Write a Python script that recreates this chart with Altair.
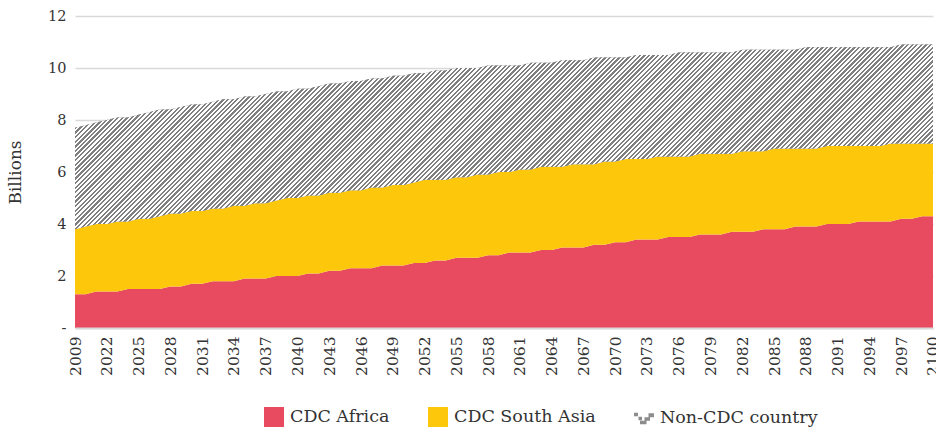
import math

import altair as alt
import pandas as pd

# Population projection by group, billions
years = ["2009"] + [str(y) for y in range(2020, 2101)]

africa = [
    1.3, 1.3, 1.4, 1.4, 1.4, 1.5, 1.5, 1.5, 1.5, 1.6,
    1.6, 1.7, 1.7, 1.8, 1.8, 1.8, 1.9, 1.9, 1.9, 2.0,
    2.0, 2.0, 2.1, 2.1, 2.2, 2.2, 2.3, 2.3, 2.3, 2.4,
    2.4, 2.4, 2.5, 2.5, 2.6, 2.6, 2.7, 2.7, 2.7, 2.8,
    2.8, 2.9, 2.9, 2.9, 3.0, 3.0, 3.1, 3.1, 3.1, 3.2,
    3.2, 3.3, 3.3, 3.4, 3.4, 3.4, 3.5, 3.5, 3.5, 3.6,
    3.6, 3.6, 3.7, 3.7, 3.7, 3.8, 3.8, 3.8, 3.9, 3.9,
    3.9, 4.0, 4.0, 4.0, 4.1, 4.1, 4.1, 4.1, 4.2, 4.2,
    4.3, 4.3,
]

south_asia = [
    2.5, 2.6, 2.6, 2.6, 2.7, 2.6, 2.7, 2.7, 2.8, 2.8,
    2.8, 2.8, 2.8, 2.8, 2.8, 2.9, 2.8, 2.9, 2.9, 2.9,
    3.0, 3.0, 3.0, 3.0, 3.0, 3.0, 3.0, 3.0, 3.1, 3.0,
    3.1, 3.1, 3.1, 3.2, 3.1, 3.1, 3.1, 3.1, 3.2, 3.1,
    3.2, 3.1, 3.2, 3.2, 3.2, 3.2, 3.1, 3.2, 3.2, 3.1,
    3.2, 3.1, 3.2, 3.1, 3.1, 3.2, 3.1, 3.1, 3.1, 3.1,
    3.1, 3.1, 3.0, 3.1, 3.1, 3.0, 3.1, 3.1, 3.0, 3.0,
    3.0, 3.0, 3.0, 3.0, 2.9, 2.9, 2.9, 3.0, 2.9, 2.9,
    2.8, 2.8,
]

non_cdc = [
    3.9, 3.9, 3.9, 4.0, 4.0, 4.0, 4.0, 4.1, 4.1, 4.0,
    4.1, 4.1, 4.1, 4.1, 4.2, 4.1, 4.2, 4.1, 4.2, 4.2,
    4.1, 4.2, 4.1, 4.2, 4.2, 4.2, 4.2, 4.2, 4.2, 4.2,
    4.2, 4.2, 4.2, 4.1, 4.2, 4.2, 4.2, 4.2, 4.1, 4.2,
    4.1, 4.1, 4.0, 4.1, 4.0, 4.0, 4.1, 4.0, 4.0, 4.1,
    4.0, 4.0, 3.9, 4.0, 4.0, 3.9, 3.9, 4.0, 4.0, 3.9,
    3.9, 3.9, 3.9, 3.9, 3.9, 3.9, 3.8, 3.8, 3.8, 3.9,
    3.9, 3.8, 3.8, 3.8, 3.8, 3.8, 3.8, 3.7, 3.8, 3.8,
    3.8, 3.8,
]

series_names = ["CDC Africa", "CDC South Asia", "Non-CDC country"]
series_colors = ["#E84A5F", "#FDC70C", "#8C8C8C"]
tick_years = ["2009"] + [str(y) for y in range(2022, 2101, 3)]
y_ticks = [0, 2, 4, 6, 8, 10, 12]

rows = []
for i, yr in enumerate(years):
    for k, (name, vals) in enumerate(zip(series_names, [africa, south_asia, non_cdc])):
        rows.append({"year": yr, "series": name, "order": k, "value": vals[i]})
df = pd.DataFrame(rows)

PLOT_W, PLOT_H, Y_MAX = 858, 312, 12
FONT = "DejaVu Serif"
TEXT = "#333333"

# Diagonal hatch for the top band, built as a hard-stop linear gradient.
# The gradient lives in the band's bounding box, so its vector is chosen
# to give 45-degree stripes in screen space.
totals = [a + s + n for a, s, n in zip(africa, south_asia, non_cdc)]
lower = [a + s for a, s in zip(africa, south_asia)]
box_w = PLOT_W
box_h = (max(totals) - min(lower)) * PLOT_H / Y_MAX
r = box_h / box_w
k = (1 + r) / (1 + r * r)
span = (box_w + box_h) / math.sqrt(2)
period = 3.25
ink = 0.5
dt = period / span
stops = []
i = 0
while i * dt < 1:
    t0 = i * dt
    t1 = min(t0 + ink * dt, 1)
    t2 = min((i + 1) * dt, 1)
    stops += [
        {"offset": round(t0, 6), "color": "#7f7f7f"},
        {"offset": round(t1, 6), "color": "#7f7f7f"},
        {"offset": round(t1, 6), "color": "#ffffff"},
        {"offset": round(t2, 6), "color": "#ffffff"},
    ]
    i += 1
hatch = {"gradient": "linear", "x1": 0, "y1": 0, "x2": k, "y2": k * r, "stops": stops}

# Small stepped glyph used as the legend key of the hatched band
hatch_key = (
    "M-1,-0.5H-0.6V-0.15H-1Z M-0.55,-0.1H-0.2V0.25H-0.55Z "
    "M-0.4,0.3H0.25V0.65H-0.4Z M0.05,-0.05H0.6V0.3H0.05Z "
    "M0.45,-0.45H1V-0.05H0.45Z"
)
series_shapes = ["square", "square", hatch_key]

base = alt.Chart(df).transform_stack(
    stack="value",
    groupby=["year"],
    as_=["y0", "y1"],
    sort=[alt.SortField("order", order="ascending")],
)

x_enc = alt.X(
    "year:O",
    sort=years,
    # a hair of padding keeps the first tick inside the range
    scale=alt.Scale(type="point", padding=0.002),
    axis=alt.Axis(
        values=tick_years,
        labelAngle=-90,
        labelFont=FONT,
        labelFontSize=15.5,
        labelColor=TEXT,
        labelPadding=8,
        labelOverlap=False,
        ticks=False,
        domain=True,
        domainColor="#d9d9d9",
        domainWidth=2,
        grid=False,
        title=None,
        zindex=1,
    ),
)

y_enc = alt.Y(
    "y1:Q",
    scale=alt.Scale(domain=[0, Y_MAX], nice=False),
    axis=alt.Axis(
        values=y_ticks,
        labelExpr="datum.value == 0 ? '-' : datum.label",
        labelFont=FONT,
        labelFontSize=14.5,
        labelColor=TEXT,
        labelPadding=9,
        ticks=False,
        domain=False,
        grid=True,
        gridColor="#d9d9d9",
        gridWidth=1.5,
        title="Billions",
        titleFont=FONT,
        titleFontSize=17,
        titleFontWeight="normal",
        titleColor=TEXT,
        titleX=-55,
        titleY=PLOT_H / 2,
        titleBaseline="alphabetic",
        titleAlign="center",
        zindex=0,
    ),
)

legend = alt.Legend(
    orient="none",
    legendX=189,
    legendY=391,
    direction="horizontal",
    columns=3,
    title=None,
    symbolSize=400,
    symbolStrokeWidth=0,
    symbolOpacity=1,
    labelFont=FONT,
    labelFontSize=17.5,
    labelColor=TEXT,
    labelOffset=6,
    labelLimit=400,
    columnPadding=38,
    padding=0,
)

color_enc = alt.Color(
    "series:N",
    scale=alt.Scale(domain=series_names, range=series_colors),
    legend=legend,
)

areas = base.mark_area(interpolate="linear").encode(
    x=x_enc,
    y=y_enc,
    y2=alt.Y2("y0:Q"),
    color=color_enc,
)

hatched = (
    base.transform_filter(alt.datum.series == "Non-CDC country")
    .mark_area(interpolate="linear", fill=hatch)
    .encode(x=x_enc, y=y_enc, y2=alt.Y2("y0:Q"))
)

# Invisible points that give the legend its key glyphs
keys = base.mark_point(filled=True, opacity=0, size=1).encode(
    x=x_enc,
    y=y_enc,
    color=color_enc,
    shape=alt.Shape(
        "series:N",
        scale=alt.Scale(domain=series_names, range=series_shapes),
        legend=legend,
    ),
)

chart = (
    alt.layer(areas, hatched, keys)
    .properties(
        width=PLOT_W,
        height=PLOT_H,
        padding={"left": 75, "top": 16, "right": 3, "bottom": 99},
        autosize=alt.AutoSizeParams(type="none"),
        background="#ffffff",
    )
    .configure_view(stroke=None)
)

chart.save("out.html", embed_options={"renderer": "svg", "actions": False})
